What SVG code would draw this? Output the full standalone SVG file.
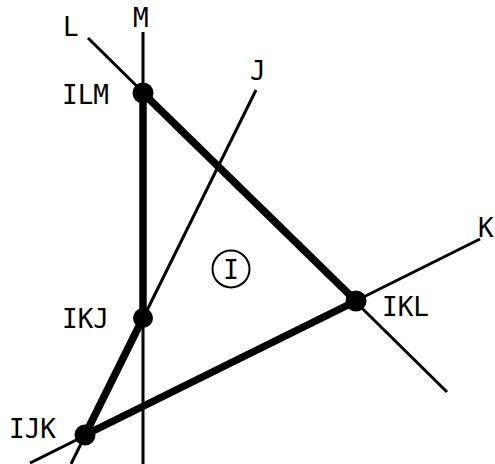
<svg xmlns="http://www.w3.org/2000/svg" width="495" height="464" viewBox="0 0 495 464">
<style>
.thin{stroke:#000;stroke-width:3;fill:none;stroke-linecap:butt}
.thick{stroke:#000;stroke-width:7.5;fill:none;stroke-linecap:round}
.lbl{font-family:"DejaVu Sans Mono","Liberation Mono",monospace;font-size:26px;fill:#000}
.dot{fill:#000}
</style>
<rect width="495" height="464" fill="#fff"/>
<g id="connectors">
<line id="lineM" class="thin" x1="143" y1="32" x2="143" y2="464"/>
<line id="lineL" class="thin" x1="88" y1="38" x2="447" y2="392"/>
<line id="lineJ" class="thin" x1="256" y1="90" x2="71" y2="464"/>
<line id="lineK" class="thin" x1="480" y1="239" x2="30" y2="463"/>
<line class="thick" x1="143" y1="93" x2="356" y2="301"/>
<line class="thick" x1="143" y1="93" x2="143" y2="318"/>
<line class="thick" x1="143" y1="318" x2="85" y2="435"/>
<line class="thick" x1="85" y1="435" x2="356" y2="301"/>
</g>
<g id="labels">
<text class="lbl" x="63" y="36">L</text>
<text class="lbl" x="133" y="27">M</text>
<text class="lbl" x="250" y="80">J</text>
<text class="lbl" x="478" y="237">K</text>
</g>
<g id="ILM"><circle class="dot" cx="143" cy="93" r="10.5"/><text class="lbl" x="62" y="104">ILM</text></g>
<g id="IKJ"><circle class="dot" cx="143" cy="318" r="10"/><text class="lbl" x="62" y="328">IKJ</text></g>
<g id="IJK"><circle class="dot" cx="85" cy="435" r="10.5"/><text class="lbl" x="9" y="438">IJK</text></g>
<g id="IKL"><circle class="dot" cx="356" cy="301" r="10.5"/><text class="lbl" x="382" y="316">IKL</text></g>
<g id="I"><circle cx="231" cy="269" r="18.5" fill="none" stroke="#000" stroke-width="2"/><text class="lbl" x="231" y="279" text-anchor="middle">I</text></g>
</svg>
